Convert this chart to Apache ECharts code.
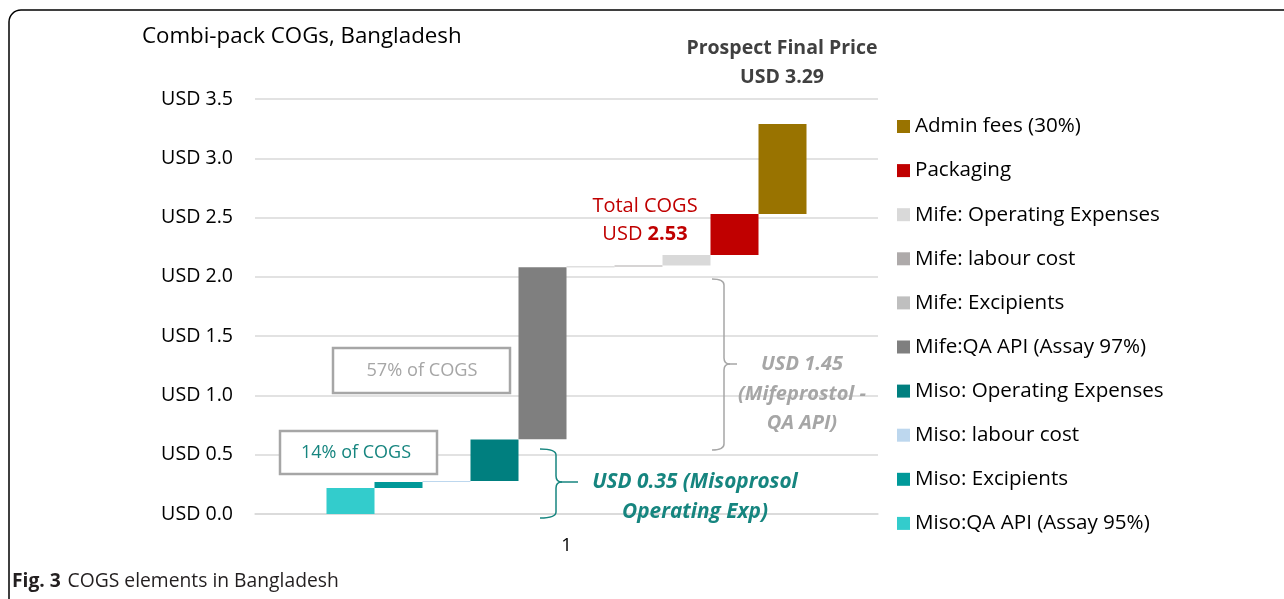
<!DOCTYPE html>
<html>
<head>
<meta charset="utf-8">
<script src="https://cdn.jsdelivr.net/npm/echarts@6/dist/echarts.min.js"></script>
<style>
  html, body { margin: 0; padding: 0; background: #fff; }
  #main { width: 1284px; height: 599px; }
</style>
</head>
<body>
<div id="main"></div>
<script>
// bars left to right, each one floats on its own base (waterfall)
var segNames = ['Miso:QA API (Assay 95%)', 'Miso: Excipients', 'Miso: labour cost', 'Miso: Operating Expenses',
    'Mife:QA API (Assay 97%)', 'Mife: Excipients', 'Mife: labour cost', 'Mife: Operating Expenses',
    'Packaging', 'Admin fees (30%)'];
var segBase = [0, 0.22, 0.27, 0.278, 0.63, 2.08, 2.088, 2.095, 2.185, 2.53];
var segValue = [0.22, 0.05, 0.008, 0.35, 1.45, 0.008, 0.007, 0.09, 0.345, 0.76];
var segColor = ['#33CCCC', '#009999', '#BDD7EE', '#007F7F',
    '#7F7F7F', '#BFBFBF', '#AEAAAA', '#D9D9D9',
    '#C00000', '#997300'];
var categories = ['1'];

var font = '"Open Sans", Lato, sans-serif';
var teal = '#16857F';
var grey = '#A6A6A6';

var series = [];
for (let i = 0; i < segNames.length; i++) {
    series.push({
        name: 'base' + i,
        type: 'bar',
        stack: 's' + i,
        barWidth: 48,
        barGap: '0%',
        silent: true,
        itemStyle: {color: 'transparent'},
        data: [segBase[i]]
    });
    series.push({
        name: segNames[i],
        type: 'bar',
        stack: 's' + i,
        barWidth: 48,
        barGap: '0%',
        itemStyle: {color: segColor[i]},
        data: [segValue[i]]
    });
}

// curly brace opening to the right, built from lines and curves
function brace(x0, x1, tip, y0, ym, y1, color) {
    var r = 6;
    var st = {fill: 'none', stroke: color, lineWidth: 1.5};
    function q(ax, ay, cx, cy, bx, by) {
        return {type: 'bezierCurve', silent: true, z: 100, style: st,
            shape: {x1: ax, y1: ay, cpx1: cx, cpy1: cy, x2: bx, y2: by}};
    }
    function l(ax, ay, bx, by) {
        return {type: 'line', silent: true, z: 100, style: st, shape: {x1: ax, y1: ay, x2: bx, y2: by}};
    }
    return [
        q(x0, y0, x1, y0, x1, y0 + r),
        l(x1, y0 + r, x1, ym - r),
        q(x1, ym - r, x1, ym, x1 + r, ym),
        l(x1 + r, ym, tip, ym),
        q(x1 + r, ym, x1, ym, x1, ym + r),
        l(x1, ym + r, x1, y1 - r),
        q(x1, y1 - r, x1, y1, x0, y1)
    ];
}

var chart = echarts.init(document.getElementById('main'));
var graphics = [
    {type: 'rect', silent: true, z: 100, shape: {x: 9, y: 10, width: 1320, height: 620, r: 12},
        style: {fill: 'none', stroke: '#000', lineWidth: 1.5}},
    {type: 'text', x: 142, y: 26, z: 100,
        style: {text: 'Combi-pack COGs, Bangladesh', fontSize: 22.3, fill: '#000', fontFamily: font, verticalAlign: 'top'}},
    {type: 'text', x: 782, y: 34, z: 100,
        style: {text: 'Prospect Final Price\nUSD 3.29', fontSize: 19.5, fontWeight: 'bold', fill: '#404040',
            align: 'center', verticalAlign: 'top', lineHeight: 29, fontFamily: font}},
    {type: 'text', x: 645, y: 192, z: 100,
        style: {
            text: '{n|Total COGS}\n{n|USD }{b|2.53}', align: 'center', verticalAlign: 'top',
            rich: {
                n: {fontSize: 20, fill: '#C00000', lineHeight: 28, fontFamily: font},
                b: {fontSize: 20, fill: '#C00000', fontWeight: 'bold', lineHeight: 28, fontFamily: font}
            }
        }},
    {type: 'rect', z: 100, shape: {x: 333, y: 348, width: 177, height: 45},
        style: {fill: '#fff', stroke: grey, lineWidth: 2.5}},
    {type: 'text', x: 422, y: 371, z: 101,
        style: {text: '57% of COGS', fontSize: 18.2, fill: grey, align: 'center', verticalAlign: 'middle', fontFamily: font}},
    {type: 'rect', z: 100, shape: {x: 280, y: 431, width: 157, height: 43},
        style: {fill: '#fff', stroke: grey, lineWidth: 2.5}},
    {type: 'text', x: 356, y: 453, z: 101,
        style: {text: '14% of COGS', fontSize: 18, fill: teal, align: 'center', verticalAlign: 'middle', fontFamily: font}},
    {type: 'text', x: 802, y: 350, z: 100,
        style: {text: 'USD 1.45\n(Mifeprostol -\nQA API)', fontSize: 20, fontWeight: 'bold', fontStyle: 'italic',
            fill: grey, align: 'center', verticalAlign: 'top', lineHeight: 29.5, fontFamily: font}},
    {type: 'text', x: 695, y: 467, z: 100,
        style: {text: 'USD 0.35 (Misoprosol\nOperating Exp)', fontSize: 20.8, fontWeight: 'bold', fontStyle: 'italic',
            fill: teal, align: 'center', verticalAlign: 'top', lineHeight: 30, fontFamily: font}},
    {type: 'text', x: 12, y: 572, z: 100,
        style: {
            text: '{b|Fig. 3}  {n|COGS elements in Bangladesh}', verticalAlign: 'top',
            rich: {
                b: {fontSize: 19.3, fontWeight: 'bold', fill: '#231F20', fontFamily: font},
                n: {fontSize: 19.3, fill: '#231F20', fontFamily: font}
            }
        }}
].concat(brace(712, 724, 737, 279, 364, 450, grey), brace(540, 556, 578, 449, 482, 518, teal));

var option = {
    animation: false,
    textStyle: {fontFamily: font},
    grid: {left: 255, right: 406, top: 99, bottom: 85},
    legend: {
        orient: 'vertical',
        left: 897,
        top: 116,
        padding: 0,
        itemWidth: 13,
        itemHeight: 13,
        itemGap: 23.1,
        icon: 'rect',
        selectedMode: false,
        data: segNames.slice().reverse(),
        textStyle: {fontSize: 20.6, lineHeight: 18, color: '#000', fontFamily: font}
    },
    xAxis: {
        type: 'category',
        data: categories,
        axisLine: {lineStyle: {color: '#D9D9D9', width: 1.5}},
        axisTick: {show: false},
        axisLabel: {fontSize: 18.5, color: '#000', margin: 22}
    },
    yAxis: {
        type: 'value',
        min: 0,
        max: 3.5,
        interval: 0.5,
        axisLine: {show: false},
        axisTick: {show: false},
        splitLine: {lineStyle: {color: '#D9D9D9', width: 1.5}},
        axisLabel: {
            fontSize: 19.6, color: '#000', margin: 22,
            formatter: function (v) { return 'USD ' + v.toFixed(1); }
        }
    },
    series: series,
    graphic: graphics
};
chart.setOption(option);
</script>
</body>
</html>
